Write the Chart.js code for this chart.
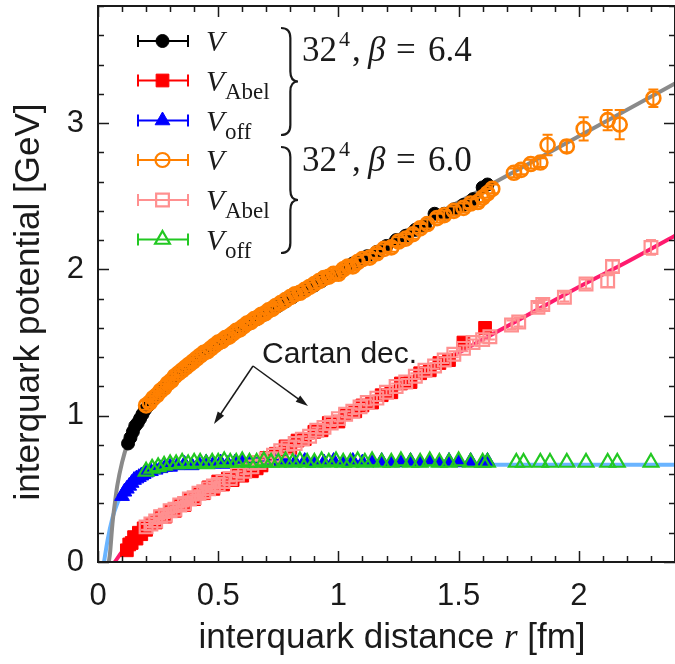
<!DOCTYPE html>
<html>
<head>
<meta charset="utf-8">
<script src="https://cdn.jsdelivr.net/npm/chart.js@4.4.1/dist/chart.umd.min.js"></script>
<style>
  html, body { margin: 0; padding: 0; background: #fff; }
  canvas { display: block; }
</style>
</head>
<body>
<canvas id="potential" width="675" height="664"></canvas>
<script>
// beta = 6.4 lattice, [r (fm), V (GeV), error]
const full64 = [
  [0.125, 0.81], [0.135, 0.85], [0.145, 0.89], [0.155, 0.93], [0.165, 0.95], [0.175, 0.98],
  [0.185, 1.01], [0.195, 1.04], [0.21, 1.07], [0.23, 1.11], [0.25, 1.15], [0.27, 1.19],
  [0.29, 1.22], [0.31, 1.25], [0.33, 1.28], [0.35, 1.31], [0.37, 1.34], [0.39, 1.36],
  [0.41, 1.39], [0.43, 1.41], [0.45, 1.44], [0.47, 1.46], [0.49, 1.48], [0.51, 1.5],
  [0.53, 1.53], [0.55, 1.55], [0.57, 1.57], [0.6, 1.6], [0.63, 1.63], [0.66, 1.66],
  [0.69, 1.69], [0.72, 1.73], [0.75, 1.75], [0.78, 1.78], [0.81, 1.81], [0.84, 1.84],
  [0.87, 1.87], [0.9, 1.89], [0.93, 1.92], [0.96, 1.95], [1.0, 1.98], [1.03, 2.01],
  [1.06, 2.04], [1.09, 2.06], [1.12, 2.09], [1.16, 2.12], [1.2, 2.16], [1.24, 2.2],
  [1.28, 2.23], [1.32, 2.27], [1.36, 2.3], [1.4, 2.38], [1.44, 2.38], [1.48, 2.41],
  [1.52, 2.44], [1.56, 2.48], [1.6, 2.56], [1.62, 2.58]
];
const abel64 = [
  [0.12, 0.08], [0.13, 0.12], [0.14, 0.13], [0.15, 0.17], [0.16, 0.16], [0.17, 0.2],
  [0.18, 0.19], [0.19, 0.23], [0.2, 0.22], [0.22, 0.26], [0.24, 0.27], [0.26, 0.31],
  [0.28, 0.31], [0.3, 0.35], [0.32, 0.35], [0.34, 0.39], [0.36, 0.39], [0.38, 0.43],
  [0.4, 0.43], [0.42, 0.47], [0.44, 0.47], [0.46, 0.51], [0.48, 0.5], [0.5, 0.55],
  [0.52, 0.53], [0.54, 0.57], [0.56, 0.56], [0.58, 0.6], [0.6, 0.59], [0.62, 0.63],
  [0.64, 0.62], [0.66, 0.64], [0.68, 0.66], [0.7, 0.71], [0.72, 0.7], [0.74, 0.74],
  [0.76, 0.74], [0.78, 0.79], [0.8, 0.78], [0.83, 0.83], [0.86, 0.84], [0.9, 0.89],
  [0.93, 0.9], [0.96, 0.95], [1.0, 0.96], [1.03, 1.01], [1.07, 1.03], [1.1, 1.07],
  [1.14, 1.09], [1.18, 1.14], [1.22, 1.16], [1.26, 1.22], [1.3, 1.23], [1.34, 1.29],
  [1.38, 1.31], [1.42, 1.36], [1.46, 1.38], [1.52, 1.5], [1.61, 1.6]
];
const off64 = [
  [0.1, 0.45], [0.11, 0.48], [0.12, 0.5], [0.13, 0.52], [0.14, 0.54], [0.15, 0.56],
  [0.16, 0.57], [0.17, 0.58], [0.18, 0.59], [0.19, 0.6], [0.2, 0.61], [0.22, 0.62],
  [0.24, 0.63], [0.26, 0.64], [0.28, 0.65], [0.3, 0.65], [0.33, 0.66], [0.36, 0.67],
  [0.39, 0.66], [0.42, 0.67], [0.45, 0.68], [0.48, 0.67], [0.51, 0.68], [0.54, 0.67],
  [0.57, 0.68], [0.6, 0.68], [0.63, 0.67], [0.66, 0.68], [0.7, 0.68], [0.74, 0.69],
  [0.78, 0.68], [0.82, 0.68], [0.86, 0.69], [0.9, 0.68], [0.94, 0.68], [0.98, 0.69],
  [1.02, 0.68], [1.06, 0.69], [1.1, 0.68], [1.14, 0.68], [1.18, 0.69], [1.22, 0.68],
  [1.26, 0.68], [1.3, 0.69], [1.34, 0.68], [1.38, 0.69], [1.42, 0.68], [1.46, 0.69],
  [1.5, 0.68], [1.55, 0.69], [1.6, 0.68], [1.62, 0.69]
];

// beta = 6.0 lattice
const full60 = [
  [0.2, 1.07, 0.03], [0.215, 1.09, 0.03], [0.23, 1.12, 0.03], [0.245, 1.14, 0.03], [0.26, 1.17, 0.03],
  [0.275, 1.19, 0.03], [0.29, 1.22, 0.03], [0.305, 1.24, 0.03], [0.32, 1.27, 0.03], [0.335, 1.29, 0.03],
  [0.35, 1.31, 0.03], [0.365, 1.33, 0.03], [0.38, 1.35, 0.03], [0.395, 1.37, 0.03], [0.41, 1.39, 0.03],
  [0.425, 1.41, 0.03], [0.44, 1.43, 0.03], [0.455, 1.44, 0.03], [0.47, 1.46, 0.03], [0.485, 1.48, 0.03],
  [0.5, 1.5, 0.03], [0.515, 1.51, 0.03], [0.53, 1.53, 0.03], [0.545, 1.54, 0.03], [0.56, 1.56, 0.03],
  [0.575, 1.58, 0.03], [0.59, 1.59, 0.03], [0.605, 1.61, 0.03], [0.62, 1.63, 0.03], [0.635, 1.64, 0.03],
  [0.65, 1.66, 0.03], [0.665, 1.67, 0.03], [0.68, 1.69, 0.03], [0.695, 1.7, 0.03], [0.71, 1.72, 0.03],
  [0.725, 1.73, 0.03], [0.74, 1.75, 0.03], [0.76, 1.77, 0.03], [0.78, 1.79, 0.03], [0.8, 1.81, 0.03],
  [0.82, 1.83, 0.03], [0.84, 1.84, 0.03], [0.86, 1.86, 0.03], [0.88, 1.88, 0.03], [0.9, 1.9, 0.03],
  [0.92, 1.92, 0.03], [0.94, 1.94, 0.03], [0.96, 1.95, 0.03], [0.98, 1.97, 0.03], [1.0, 1.97, 0.03],
  [1.02, 2.0, 0.03], [1.04, 2.02, 0.03], [1.06, 2.02, 0.03], [1.08, 2.05, 0.03], [1.1, 2.07, 0.03],
  [1.13, 2.08, 0.03], [1.16, 2.11, 0.03], [1.19, 2.14, 0.03], [1.22, 2.15, 0.03], [1.25, 2.19, 0.03],
  [1.28, 2.21, 0.03], [1.31, 2.24, 0.03], [1.34, 2.28, 0.03], [1.37, 2.31, 0.03], [1.41, 2.35, 0.03],
  [1.44, 2.37, 0.03], [1.48, 2.4, 0.03], [1.52, 2.42, 0.03], [1.55, 2.45, 0.03], [1.58, 2.46, 0.03],
  [1.6, 2.49, 0.03], [1.62, 2.52, 0.03], [1.64, 2.55, 0.03],
  [1.73, 2.66, 0.03], [1.76, 2.68, 0.03], [1.8, 2.72, 0.03], [1.84, 2.73, 0.03], [1.87, 2.85, 0.07],
  [1.95, 2.84, 0.04], [2.02, 2.96, 0.08], [2.12, 3.02, 0.07], [2.17, 2.99, 0.1], [2.31, 3.17, 0.06]
];
const abel60 = [
  [0.2, 0.24, 0.02], [0.22, 0.26, 0.02], [0.24, 0.28, 0.02], [0.26, 0.31, 0.02], [0.28, 0.32, 0.02],
  [0.3, 0.35, 0.02], [0.32, 0.36, 0.02], [0.34, 0.39, 0.02], [0.36, 0.4, 0.02], [0.38, 0.43, 0.02],
  [0.4, 0.44, 0.02], [0.42, 0.47, 0.02], [0.44, 0.48, 0.02], [0.46, 0.5, 0.02], [0.48, 0.52, 0.02],
  [0.5, 0.53, 0.02], [0.52, 0.55, 0.02], [0.55, 0.57, 0.02], [0.58, 0.6, 0.02], [0.61, 0.62, 0.02],
  [0.64, 0.65, 0.02], [0.67, 0.68, 0.02], [0.7, 0.7, 0.02], [0.73, 0.73, 0.02], [0.76, 0.76, 0.02],
  [0.79, 0.78, 0.02], [0.82, 0.81, 0.02], [0.85, 0.84, 0.02], [0.88, 0.86, 0.02], [0.91, 0.9, 0.02],
  [0.94, 0.92, 0.02], [0.97, 0.95, 0.02], [1.0, 0.98, 0.02], [1.03, 1.01, 0.02], [1.06, 1.03, 0.02],
  [1.09, 1.06, 0.02], [1.12, 1.09, 0.02], [1.16, 1.12, 0.02], [1.2, 1.16, 0.02], [1.24, 1.2, 0.02],
  [1.28, 1.23, 0.02], [1.32, 1.27, 0.02], [1.36, 1.31, 0.02], [1.4, 1.34, 0.02], [1.44, 1.38, 0.02],
  [1.48, 1.42, 0.02], [1.52, 1.46, 0.02], [1.56, 1.5, 0.02], [1.6, 1.52, 0.02], [1.63, 1.54, 0.02],
  [1.72, 1.62, 0.03], [1.75, 1.64, 0.03], [1.83, 1.74, 0.03], [1.85, 1.76, 0.03], [1.94, 1.81, 0.03],
  [2.03, 1.9, 0.03], [2.12, 1.92, 0.04], [2.14, 2.02, 0.04], [2.3, 2.15, 0.05]
];
const off60 = [
  [0.2, 0.62], [0.225, 0.64], [0.25, 0.65], [0.275, 0.66], [0.3, 0.67], [0.325, 0.67],
  [0.35, 0.68], [0.375, 0.67], [0.4, 0.68], [0.425, 0.68], [0.45, 0.67], [0.475, 0.68],
  [0.5, 0.68], [0.525, 0.69], [0.55, 0.68], [0.575, 0.68], [0.6, 0.69], [0.63, 0.68],
  [0.66, 0.68], [0.69, 0.69], [0.72, 0.68], [0.75, 0.68], [0.78, 0.69], [0.81, 0.68],
  [0.84, 0.69], [0.87, 0.68], [0.9, 0.68], [0.93, 0.69], [0.96, 0.68], [0.99, 0.69],
  [1.02, 0.68], [1.05, 0.68], [1.08, 0.69], [1.11, 0.68], [1.14, 0.69], [1.18, 0.68],
  [1.22, 0.68], [1.26, 0.69], [1.3, 0.68], [1.34, 0.68], [1.38, 0.69], [1.42, 0.68],
  [1.46, 0.68], [1.5, 0.69], [1.55, 0.68], [1.6, 0.68], [1.62, 0.68],
  [1.74, 0.68], [1.77, 0.68], [1.84, 0.68], [1.88, 0.68], [1.95, 0.68], [2.03, 0.68],
  [2.12, 0.68], [2.16, 0.68], [2.3, 0.68]
];

// fitted curves
const fitFull = [
  [0.045, 0], [0.05, 0.06], [0.06, 0.26], [0.07, 0.4], [0.08, 0.52], [0.1, 0.68],
  [0.125, 0.82], [0.15, 0.92], [0.2, 1.06], [0.3, 1.25], [0.4, 1.38], [0.5, 1.5],
  [0.7, 1.71], [1.0, 2.0], [1.3, 2.28], [1.6, 2.55], [2.0, 2.91], [2.4, 3.27]
];
const fitAbel = [
  [0.07, 0], [0.1, 0.07], [0.15, 0.16], [0.2, 0.23], [0.3, 0.34], [0.4, 0.44],
  [0.5, 0.53], [0.6, 0.62], [0.8, 0.8], [1.0, 0.98], [1.2, 1.16], [1.4, 1.34],
  [1.6, 1.52], [1.8, 1.7], [2.0, 1.88], [2.2, 2.05], [2.4, 2.23]
];
const fitOff = [
  [0.025, 0], [0.04, 0.15], [0.06, 0.3], [0.08, 0.4], [0.1, 0.47], [0.13, 0.54],
  [0.16, 0.59], [0.2, 0.62], [0.3, 0.65], [0.5, 0.66], [1.0, 0.665], [2.4, 0.665]
];

const xLabels = [0, 0.5, 1, 1.5, 2];
const yLabels = [0, 1, 2, 3];

const SANS = '"Liberation Sans", Arial, sans-serif';
const SERIF = '"Liberation Serif", "Times New Roman", serif';

const pts = arr => arr.map(p => ({ x: p[0], y: p[1], e: p[2] || 0 }));

function markerSet(style, color, filled, radius, width) {
  return {
    pointStyle: style,
    pointRadius: radius,
    pointHoverRadius: radius,
    pointBackgroundColor: filled ? color : 'rgba(0,0,0,0)',
    pointBorderColor: color,
    pointBorderWidth: width,
    showLine: false
  };
}

function fitSet(arr, color) {
  return {
    data: pts(arr),
    showLine: true,
    borderColor: color,
    borderWidth: 4,
    pointRadius: 0,
    cubicInterpolationMode: 'monotone',
    order: 10
  };
}

const datasets = [
  Object.assign({ label: 'V', sub: '', data: pts(full64), order: 6 }, markerSet('circle', '#000000', true, 6.5, 1)),
  Object.assign({ label: 'V', sub: 'Abel', data: pts(abel64), order: 5 }, markerSet('rect', '#ff0000', true, 9, 1)),
  Object.assign({ label: 'V', sub: 'off', data: pts(off64), order: 4 }, markerSet('triangle', '#0000ff', true, 8.5, 1)),
  Object.assign({ label: 'V', sub: '', data: pts(full60), order: 3 }, markerSet('circle', '#ff8000', false, 7, 2.6)),
  Object.assign({ label: 'V', sub: 'Abel', data: pts(abel60), order: 2 }, markerSet('rect', '#ff9090', false, 9, 2.2)),
  Object.assign({ label: 'V', sub: 'off', data: pts(off60), order: 1 }, markerSet('triangle', '#22c822', false, 8.5, 2.2)),
  fitSet(fitFull, '#8a8a8a'),
  fitSet(fitAbel, '#ff1a6e'),
  fitSet(fitOff, '#6ab4ff')
];

// vertical error bars with small caps
const errorBars = {
  id: 'errorBars',
  afterDatasetDraw(chart, args) {
    const ds = chart.data.datasets[args.index];
    if (ds.showLine) return;
    const ctx = chart.ctx, ys = chart.scales.y;
    ctx.save();
    ctx.strokeStyle = ds.pointBorderColor;
    ctx.lineWidth = 2;
    args.meta.data.forEach((el, i) => {
      const e = ds.data[i].e;
      if (!e) return;
      const y0 = ys.getPixelForValue(ds.data[i].y - e);
      const y1 = ys.getPixelForValue(ds.data[i].y + e);
      ctx.beginPath();
      ctx.moveTo(el.x, y0); ctx.lineTo(el.x, y1);
      ctx.moveTo(el.x - 5, y0); ctx.lineTo(el.x + 5, y0);
      ctx.moveTo(el.x - 5, y1); ctx.lineTo(el.x + 5, y1);
      ctx.stroke();
    });
    ctx.restore();
  }
};

function drawMarker(ctx, ds, x, y) {
  const r = ds.pointRadius;
  ctx.beginPath();
  if (ds.pointStyle === 'circle') {
    ctx.arc(x, y, r, 0, Math.PI * 2);
  } else if (ds.pointStyle === 'rect') {
    const s = r * Math.SQRT1_2;
    ctx.rect(x - s, y - s, 2 * s, 2 * s);
  } else {
    ctx.moveTo(x, y - r);
    ctx.lineTo(x + r * 0.866, y + r / 2);
    ctx.lineTo(x - r * 0.866, y + r / 2);
    ctx.closePath();
  }
  ctx.fillStyle = ds.pointBackgroundColor;
  ctx.fill();
  ctx.lineWidth = Math.min(ds.pointBorderWidth, 2.2);
  ctx.strokeStyle = ds.pointBorderColor;
  ctx.stroke();
}

function brace(ctx, x, y0, y1, w) {
  const ym = (y0 + y1) / 2, sx = x + w * 0.55, c = 10;
  ctx.beginPath();
  ctx.moveTo(x, y0);
  ctx.quadraticCurveTo(sx, y0, sx, y0 + c);
  ctx.lineTo(sx, ym - c);
  ctx.quadraticCurveTo(sx, ym, x + w, ym);
  ctx.quadraticCurveTo(sx, ym, sx, ym + c);
  ctx.lineTo(sx, y1 - c);
  ctx.quadraticCurveTo(sx, y1, x, y1);
  ctx.stroke();
}

function arrow(ctx, x0, y0, x1, y1) {
  const a = Math.atan2(y1 - y0, x1 - x0), L = 13, W = 0.3;
  ctx.beginPath();
  ctx.moveTo(x0, y0);
  ctx.lineTo(x1 - Math.cos(a) * L * 0.6, y1 - Math.sin(a) * L * 0.6);
  ctx.stroke();
  ctx.beginPath();
  ctx.moveTo(x1, y1);
  ctx.lineTo(x1 - L * Math.cos(a - W), y1 - L * Math.sin(a - W));
  ctx.lineTo(x1 - L * Math.cos(a + W), y1 - L * Math.sin(a + W));
  ctx.closePath();
  ctx.fill();
}

// frame, inward ticks, legend, annotations and axis titles
const decorations = {
  id: 'decorations',
  afterDraw(chart) {
    const ctx = chart.ctx, xs = chart.scales.x, ys = chart.scales.y;
    const a = chart.chartArea;
    ctx.save();
    ctx.strokeStyle = '#1a1a1a';
    ctx.lineWidth = 1.5;
    ctx.beginPath();
    for (let i = 0; i <= 24; i++) {
      const px = Math.round(xs.getPixelForValue(i / 10)) + 0.5;
      const len = i % 5 === 0 ? 11 : 6;
      ctx.moveTo(px, a.bottom); ctx.lineTo(px, a.bottom - len);
      ctx.moveTo(px, a.top); ctx.lineTo(px, a.top + len);
    }
    for (let i = 0; i <= 19; i++) {
      const py = Math.round(ys.getPixelForValue(i / 5)) + 0.5;
      const len = i % 5 === 0 ? 11 : 6;
      ctx.moveTo(a.left, py); ctx.lineTo(a.left + len, py);
      ctx.moveTo(a.right, py); ctx.lineTo(a.right - len, py);
    }
    ctx.stroke();
    ctx.lineWidth = 2;
    ctx.strokeRect(a.left, a.top, a.right - a.left, a.bottom - a.top);

    // legend
    const rowY = [41, 80.5, 120.5, 160, 200, 239.5];
    datasets.slice(0, 6).forEach((ds, i) => {
      const y = rowY[i];
      ctx.strokeStyle = ds.pointBorderColor;
      ctx.lineWidth = 2;
      ctx.beginPath();
      ctx.moveTo(138, y); ctx.lineTo(188, y);
      ctx.moveTo(138, y - 6); ctx.lineTo(138, y + 6);
      ctx.moveTo(188, y - 6); ctx.lineTo(188, y + 6);
      ctx.stroke();
      drawMarker(ctx, ds, 162.5, y);
      ctx.fillStyle = '#1a1a1a';
      ctx.textBaseline = 'alphabetic';
      ctx.textAlign = 'left';
      ctx.font = 'italic 30px ' + SERIF;
      ctx.fillText(ds.label, 206, y + 10);
      if (ds.sub) {
        ctx.font = '23px ' + SERIF;
        ctx.fillText(ds.sub, 225, y + 18);
      }
    });
    ctx.strokeStyle = '#1a1a1a';
    ctx.lineWidth = 2.2;
    brace(ctx, 281, 28, 135, 17);
    brace(ctx, 281, 147, 253, 17);

    const betaText = (beta, base) => {
      ctx.fillStyle = '#1a1a1a';
      ctx.font = '35px ' + SERIF;
      ctx.fillText('32', 302, base);
      ctx.font = '22px ' + SERIF;
      ctx.fillText('4', 339, base - 15);
      ctx.font = '35px ' + SERIF;
      ctx.fillText(',', 352, base);
      ctx.font = 'italic 35px ' + SERIF;
      ctx.fillText('\u03b2', 368, base);
      ctx.font = '35px ' + SERIF;
      ctx.fillText('=', 396, base);
      ctx.fillText(beta, 428, base);
    };
    betaText('6.4', 61);
    betaText('6.0', 171);

    // annotation
    ctx.font = '30px ' + SANS;
    ctx.fillStyle = '#1a1a1a';
    ctx.fillText('Cartan dec.', 262, 363);
    ctx.strokeStyle = '#1a1a1a';
    ctx.lineWidth = 1.5;
    arrow(ctx, 253, 366, 214, 424);
    arrow(ctx, 253, 366, 308, 406);

    // x title with italic r
    const p1 = 'interquark distance ', p2 = 'r', p3 = ' [fm]';
    ctx.font = '35px ' + SANS;
    const w1 = ctx.measureText(p1).width, w3 = ctx.measureText(p3).width;
    ctx.font = 'italic 35px ' + SERIF;
    const w2 = ctx.measureText(p2).width;
    let tx = 392 - (w1 + w2 + w3) / 2;
    const tb = 648;
    ctx.font = '35px ' + SANS;
    ctx.fillText(p1, tx, tb); tx += w1;
    ctx.font = 'italic 35px ' + SERIF;
    ctx.fillText(p2, tx, tb); tx += w2;
    ctx.font = '35px ' + SANS;
    ctx.fillText(p3, tx, tb);

    // y title
    ctx.font = '35px ' + SANS;
    ctx.translate(29, 302);
    ctx.rotate(-Math.PI / 2);
    ctx.textAlign = 'center';
    ctx.textBaseline = 'middle';
    ctx.fillText('interquark potential [GeV]', 0, 0);
    ctx.restore();
  }
};

// keep the plot box fixed: no extra room for edge labels
const fixBox = size => s => {
  if (s.isHorizontal()) s.height = size; else s.width = size;
  s.paddingTop = 0; s.paddingBottom = 0; s.paddingLeft = 0; s.paddingRight = 0;
};

new Chart(document.getElementById('potential'), {
  type: 'scatter',
  data: { datasets },
  options: {
    responsive: false,
    animation: false,
    devicePixelRatio: 1,
    layout: { autoPadding: false, padding: { top: 6, right: 0, left: 0, bottom: 0 } },
    plugins: { legend: { display: false }, tooltip: { enabled: false } },
    scales: {
      x: {
        type: 'linear', min: 0, max: 2.4,
        afterFit: fixBox(102),
        grid: { display: false, drawTicks: false },
        border: { display: false },
        ticks: {
          stepSize: 0.5, includeBounds: false, autoSkip: false, maxRotation: 0,
          padding: 16, color: '#1a1a1a', font: { family: SANS, size: 31 },
          callback: v => xLabels.includes(v) ? String(v) : ''
        }
      },
      y: {
        type: 'linear', min: 0, max: 3.8,
        afterFit: fixBox(98),
        grid: { display: false, drawTicks: false },
        border: { display: false },
        ticks: {
          stepSize: 1, includeBounds: false,
          padding: 14, color: '#1a1a1a', font: { family: SANS, size: 31 },
          callback: v => yLabels.includes(v) ? String(v) : ''
        }
      }
    }
  },
  plugins: [errorBars, decorations]
});
</script>
</body>
</html>
